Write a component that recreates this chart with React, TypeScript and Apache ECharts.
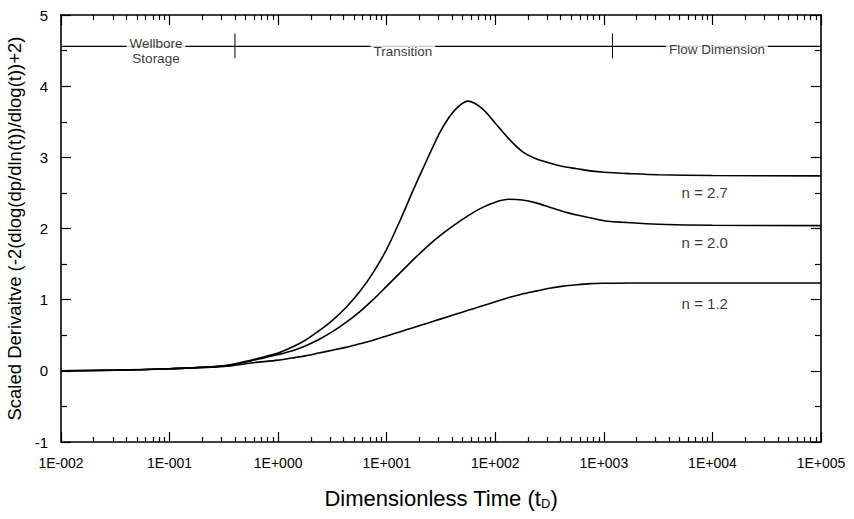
import React, { useEffect, useRef } from "react";
import * as echarts from "echarts";

// Dimensionless time samples (shared by all curves)
const timeValues = [
  0.01, 0.0316, 0.1, 0.316, 0.562,
  1, 1.334, 1.778, 2.371, 3.162, 4.217, 5.623, 7.499,
  10, 13.34, 17.78, 23.71, 31.62, 42.17, 56.23, 74.99,
  100, 133.4, 177.8, 237.1, 316.2, 421.7, 562.3, 749.9,
  1000, 1778, 3162, 10000, 100000,
];
// Scaled derivative for each flow dimension n
const derivN27 = [
  0.0, 0.01, 0.03, 0.07, 0.15,
  0.25, 0.33, 0.43, 0.56, 0.71, 0.89, 1.11, 1.38,
  1.71, 2.12, 2.56, 2.98, 3.38, 3.66, 3.79, 3.69,
  3.48, 3.26, 3.08, 2.98, 2.92, 2.87, 2.84, 2.81,
  2.79, 2.77, 2.755, 2.745, 2.74,
];
const derivN20 = [
  0.0, 0.01, 0.03, 0.07, 0.14,
  0.23, 0.28, 0.35, 0.44, 0.55, 0.68, 0.83, 1.0,
  1.19, 1.38, 1.57, 1.75, 1.91, 2.05, 2.18, 2.29,
  2.37, 2.41, 2.40, 2.36, 2.30, 2.24, 2.19, 2.15,
  2.11, 2.08, 2.06, 2.045, 2.04,
];
const derivN12 = [
  0.0, 0.01, 0.03, 0.06, 0.11,
  0.15, 0.18, 0.21, 0.25, 0.29, 0.33, 0.38, 0.43,
  0.49, 0.55, 0.61, 0.67, 0.73, 0.79, 0.85, 0.91,
  0.97, 1.03, 1.08, 1.12, 1.16, 1.19, 1.21, 1.225,
  1.23, 1.235, 1.235, 1.235, 1.235,
];

const curveNames = ["n = 2.7", "n = 2.0", "n = 1.2"];
const curveLabelTimes = [8500, 8500, 8500];
const curveLabelValues = [2.5, 1.8, 0.94];

// Flow-regime band at the top
const phaseLevel = 4.56;
const phaseBoundaryTimes = [0.4, 1200];
const phaseBoundaryRange = [4.39, 4.74];
const phaseNames = ["Wellbore\nStorage", "Transition", "Flow Dimension"];
const phaseLabelTimes = [0.075, 14.1, 11000];
const phaseLabelValues = [4.49, 4.49, 4.52];

// Axes
const xMajorTimes = [0.01, 0.1, 1, 10, 100, 1000, 10000, 100000];
const xTickLabels = ["1E-002", "1E-001", "1E+000", "1E+001", "1E+002", "1E+003", "1E+004", "1E+005"];
const xMinorMultipliers = [2, 3, 4, 5, 6, 7, 8, 9];
const yMin = -1;
const yMax = 5;
const yStep = 1;

const FONT = 'Arial, "Liberation Sans", sans-serif';

export default function App() {
  const ref = useRef<HTMLDivElement>(null);

  useEffect(() => {
    if (!ref.current) return;
    const chart = echarts.init(ref.current, undefined, { renderer: "svg" });

    const minorTimes: number[] = [];
    for (let i = 0; i < xMajorTimes.length - 1; i++) {
      for (const m of xMinorMultipliers) minorTimes.push(+(xMajorTimes[i] * m).toPrecision(6));
    }

    const lineColor = "#000";
    const tickColor = "#000";
    const mkX = (position: "bottom" | "top", minor: boolean, labels: boolean) => ({
      type: "log",
      logBase: 10,
      min: 0.01,
      max: 100000,
      position,
      gridIndex: 0,
      splitLine: { show: false },
      axisLine: { show: !minor, onZero: false, lineStyle: { color: lineColor, width: 1.6 } },
      axisTick: {
        show: true,
        inside: true,
        length: minor ? 5 : 10,
        customValues: minor ? minorTimes : xMajorTimes,
        lineStyle: { color: tickColor, width: 1.2 },
      },
      axisLabel: labels
        ? {
            show: true,
            customValues: xMajorTimes,
            formatter: (v: number) => {
              const idx = xMajorTimes.findIndex((t) => Math.abs(Math.log10(t) - Math.log10(v)) < 1e-6);
              return idx >= 0 ? xTickLabels[idx] : "";
            },
            margin: 14,
            fontSize: 14,
            fontFamily: FONT,
            color: "#000",
          }
        : { show: false },
    });

    const mkY = (position: "left" | "right", labels: boolean) => ({
      type: "value",
      min: yMin,
      max: yMax,
      interval: yStep,
      position,
      splitLine: { show: false },
      axisLine: { show: true, onZero: false, lineStyle: { color: lineColor, width: 1.6 } },
      axisTick: { show: true, inside: true, length: 10, lineStyle: { color: tickColor, width: 1.2 } },
      minorTick: { show: true, splitNumber: 2, length: 6, lineStyle: { color: tickColor, width: 1.2 } },
      minorSplitLine: { show: false },
      axisLabel: labels
        ? { show: true, margin: 13, fontSize: 15, fontFamily: FONT, color: "#000" }
        : { show: false },
    });

    const curve = (vals: number[], name: string) => ({
      type: "line",
      name,
      xAxisIndex: 0,
      yAxisIndex: 0,
      data: timeValues.map((t, i) => [t, vals[i]]),
      showSymbol: false,
      symbol: "none",
      smooth: 0.3,
      lineStyle: { color: "#000", width: 1.6 },
      z: 3,
    });

    const option: any = {
      animation: false,
      backgroundColor: "#fff",
      grid: { left: 61, right: 33, top: 15, bottom: 77, containLabel: false, outerBoundsMode: "none" },
      xAxis: [
        {
          ...mkX("bottom", false, true),
          name: "Dimensionless Time (t{sub|D})",
          nameLocation: "middle",
          nameGap: 45,
          nameTextStyle: {
            fontSize: 22,
            fontFamily: FONT,
            color: "#000",
            rich: { sub: { fontSize: 13, fontFamily: FONT, color: "#000", padding: [10, 0, 0, 0] } },
          },
        },
        mkX("top", false, false),
        mkX("bottom", true, false),
        mkX("top", true, false),
      ],
      yAxis: [
        {
          ...mkY("left", true),
          name: "Scaled Derivaitve (-2(dlog(dp/dln(t))/dlog(t))+2)",
          nameLocation: "middle",
          nameGap: 32,
          nameTextStyle: { fontSize: 18.5, fontFamily: FONT, color: "#000" },
        },
        mkY("right", false),
      ],
      series: [
        curve(derivN27, curveNames[0]),
        curve(derivN20, curveNames[1]),
        curve(derivN12, curveNames[2]),
        {
          type: "line",
          name: "phase",
          data: [
            [xMajorTimes[0], phaseLevel],
            [xMajorTimes[xMajorTimes.length - 1], phaseLevel],
          ],
          symbol: "none",
          lineStyle: { color: "#000", width: 1.2 },
          z: 2,
        },
        ...phaseBoundaryTimes.map((t) => ({
          type: "line",
          name: "boundary",
          data: [
            [t, phaseBoundaryRange[0]],
            [t, phaseBoundaryRange[1]],
          ],
          symbol: "none",
          lineStyle: { color: "#000", width: 1 },
          z: 2,
        })),
        {
          type: "scatter",
          name: "phaseLabels",
          symbolSize: 0,
          z: 5,
          data: phaseNames.map((n, i) => [phaseLabelTimes[i], phaseLabelValues[i]]),
          label: {
            show: true,
            position: "inside",
            formatter: (p: any) => phaseNames[p.dataIndex],
            fontSize: 13.5,
            lineHeight: 15,
            fontFamily: FONT,
            color: "#000",
            backgroundColor: "#fff",
            padding: [0, 3],
            align: "center",
          },
        },
        {
          type: "scatter",
          name: "curveLabels",
          symbolSize: 0,
          z: 5,
          data: curveNames.map((n, i) => [curveLabelTimes[i], curveLabelValues[i]]),
          label: {
            show: true,
            position: "inside",
            formatter: (p: any) => curveNames[p.dataIndex],
            fontSize: 15,
            fontFamily: FONT,
            color: "#000",
          },
        },
      ],
    };

    chart.setOption(option);
    return () => chart.dispose();
  }, []);

  return (
    <div
      ref={ref}
      style={{ position: "fixed", left: 0, top: 0, width: 854, height: 519, background: "#fff" }}
    />
  );
}
